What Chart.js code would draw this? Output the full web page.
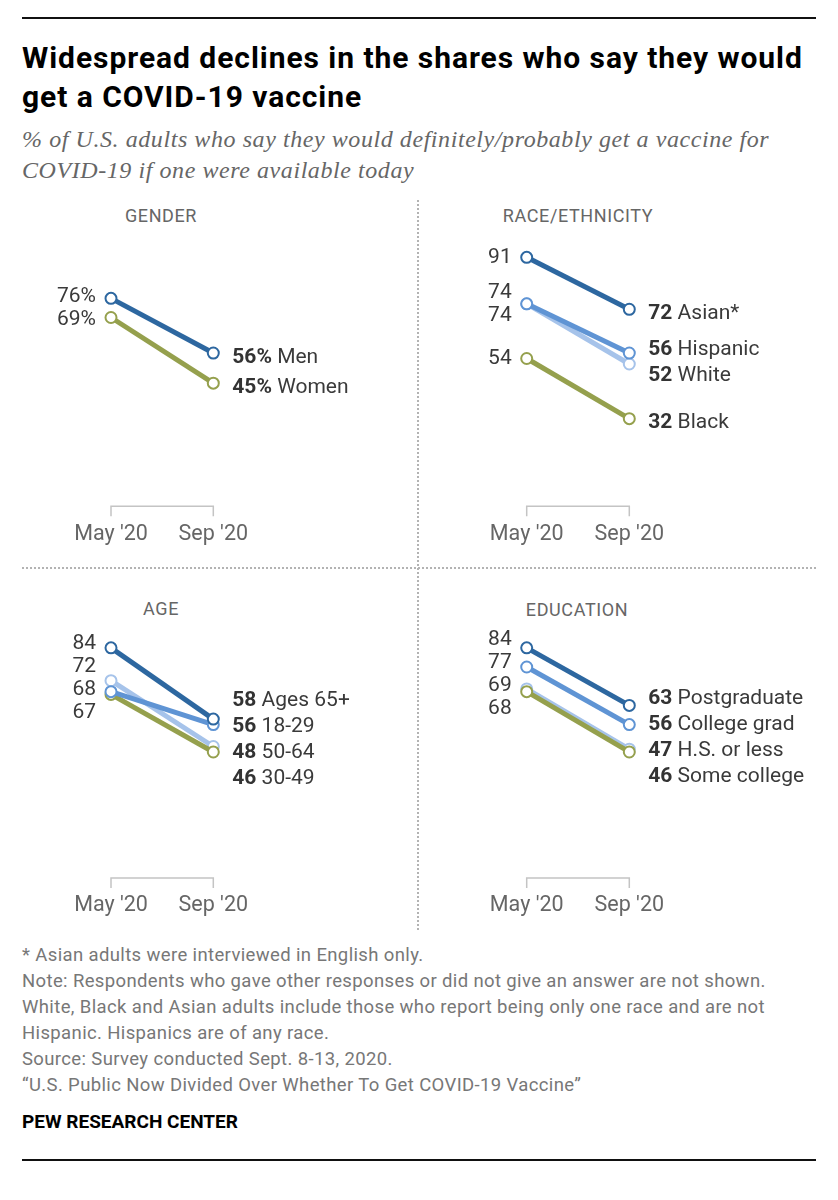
<!DOCTYPE html>
<html><head><meta charset="utf-8">
<script src="https://cdn.jsdelivr.net/npm/chart.js@4.4.1/dist/chart.umd.min.js"></script>
<style>
html,body{margin:0;padding:0;background:#fff;}
body{width:838px;height:1200px;position:relative;overflow:hidden;font-family:Roboto,"Open Sans",sans-serif;}
.abs{position:absolute;}
.rule{position:absolute;left:22px;width:794px;height:2px;background:#111;}
#title{left:22px;top:38px;font-family:Roboto,sans-serif;font-weight:700;font-size:30px;line-height:39px;color:#000;letter-spacing:0.95px;white-space:nowrap;}
#sub{left:22px;top:124px;font-family:"Liberation Serif",serif;font-style:italic;font-size:24px;line-height:31px;color:#666;letter-spacing:0.57px;white-space:nowrap;}
.hdr{position:absolute;font-size:18px;color:#666;letter-spacing:0.6px;transform:translateX(-50%);white-space:nowrap;line-height:20px;}
.vdot{position:absolute;left:417px;top:200px;width:2px;height:732px;background-image:repeating-linear-gradient(to bottom,#b3b3b3 0 2px,transparent 2px 4px);}
.hdot{position:absolute;left:22px;top:567px;width:794px;height:2px;background-image:repeating-linear-gradient(to right,#b3b3b3 0 2px,transparent 2px 4px);}
#notes{left:22px;top:942px;font-size:18.5px;line-height:26px;color:#777;letter-spacing:0.37px;white-space:nowrap;}
#pew{left:22px;top:1110px;font-size:19px;font-weight:700;color:#000;letter-spacing:0;}
canvas{position:absolute;}
</style></head>
<body>
<div class="rule" style="top:17px"></div>
<div id="title" class="abs">Widespread declines in the shares who say they would<br>get a COVID-19 vaccine</div>
<div id="sub" class="abs">% of U.S. adults who say they would definitely/probably get a vaccine for<br>COVID-19 if one were available today</div>
<div class="vdot"></div>
<div class="hdot"></div>
<div class="hdr" style="left:161px;top:206px">GENDER</div>
<div class="hdr" style="left:578px;top:206px">RACE/ETHNICITY</div>
<div class="hdr" style="left:161px;top:599px">AGE</div>
<div class="hdr" style="left:577px;top:600px">EDUCATION</div>
<canvas id="c1" width="419" height="370" style="left:0;top:190px"></canvas>
<canvas id="c2" width="419" height="370" style="left:419px;top:190px"></canvas>
<canvas id="c3" width="419" height="350" style="left:0;top:580px"></canvas>
<canvas id="c4" width="419" height="350" style="left:419px;top:580px"></canvas>
<div id="notes" class="abs">* Asian adults were interviewed in English only.<br>Note: Respondents who gave other responses or did not give an answer are not shown.<br>White, Black and Asian adults include those who report being only one race and are not<br>Hispanic. Hispanics are of any race.<br>Source: Survey conducted Sept. 8-13, 2020.<br>“U.S. Public Now Divided Over Whether To Get COVID-19 Vaccine”</div>
<div id="pew" class="abs">PEW RESEARCH CENTER</div>
<div class="rule" style="top:1159px"></div>
<script>
const periods = ["May '20", "Sep '20"];

const genderGroups = ['Men', 'Women'];
const genderMay = [76, 69];
const genderSep = [56, 45];

const raceGroups = ['Asian*', 'Hispanic', 'White', 'Black'];
const raceMay = [91, 74, 74, 54];
const raceSep = [72, 56, 52, 32];

const ageGroups = ['Ages 65+', '18-29', '50-64', '30-49'];
const ageMay = [84, 68, 72, 67];
const ageSep = [58, 56, 48, 46];

const eduGroups = ['Postgraduate', 'College grad', 'H.S. or less', 'Some college'];
const eduMay = [84, 77, 69, 68];
const eduSep = [63, 56, 47, 46];

const COLORS = {dark:'#2d67a0', medium:'#5f94d4', light:'#a6c3ea', olive:'#95a04d'};
const ZORDER = {dark:0, medium:1, olive:2, light:3};

function spread(items, gap){
  items.sort((a,b)=>a.y-b.y);
  let groups = items.map(it=>({items:[it], top:it.y}));
  let changed = true;
  while(changed){
    changed = false;
    for(let i=0;i<groups.length-1;i++){
      const g=groups[i], h=groups[i+1];
      const gb = g.top + (g.items.length-1)*gap;
      if(h.top - gb < gap){
        const its = g.items.concat(h.items);
        const mean = its.reduce((s,it)=>s+it.y,0)/its.length;
        groups.splice(i,2,{items:its, top: mean - (its.length-1)*gap/2});
        changed = true; break;
      }
    }
  }
  groups.forEach(g=>g.items.forEach((it,k)=>{it.ly = g.top + k*gap;}));
  return items;
}

const slopePlugin = {
  id:'slopeLabels',
  afterDatasetsDraw(chart){
    const o = chart.options.plugins.slopeLabels || {};
    const ctx = chart.ctx, xs = chart.scales.x, ys = chart.scales.y;
    const x0 = xs.getPixelForValue(0), x1 = xs.getPixelForValue(1), yb = ys.getPixelForValue(0);
    ctx.save();
    ctx.strokeStyle = '#c4c4c4'; ctx.lineWidth = 1.5;
    ctx.beginPath();
    ctx.moveTo(x0, yb+10); ctx.lineTo(x0, yb); ctx.lineTo(x1, yb); ctx.lineTo(x1, yb+10);
    ctx.stroke();
    ctx.fillStyle = '#666'; ctx.font = '21.5px Roboto'; ctx.textAlign = 'center'; ctx.textBaseline = 'middle';
    chart.data.labels.forEach((l,i)=>ctx.fillText(l, xs.getPixelForValue(i), yb+28));
    const suf = o.pct ? '%' : '';
    const ds = chart.data.datasets;
    const left = spread(ds.map(d=>({y: ys.getPixelForValue(d.data[0]), v: d.data[0]})), 23);
    ctx.fillStyle = '#3a3a3a'; ctx.font = '21px Roboto'; ctx.textAlign = 'right';
    left.forEach(it=>ctx.fillText(it.v + suf, x0 - 15, it.ly));
    const right = spread(ds.map(d=>({y: ys.getPixelForValue(d.data[1]), v: d.data[1], name: d.label})), 26);
    ctx.textAlign = 'left';
    right.forEach(it=>{
      const tx = x1 + 19, ty = it.ly + 4.5;
      ctx.font = 'bold 21px Roboto'; ctx.fillStyle = '#333';
      const num = it.v + suf;
      ctx.fillText(num, tx, ty);
      const w = ctx.measureText(num + ' ').width;
      ctx.font = '21px Roboto'; ctx.fillStyle = '#3a3a3a';
      ctx.fillText(it.name, tx + w, ty);
    });
    ctx.restore();
  }
};

function makeChart(id, groups, may, sep, roles, pad, pct){
  const datasets = groups.map((g,i)=>({
    label: g,
    data: [may[i], sep[i]],
    borderColor: COLORS[roles[i]],
    pointBorderColor: COLORS[roles[i]],
    pointBackgroundColor: '#fff',
    borderWidth: 5,
    pointRadius: 5.5,
    pointBorderWidth: 2,
    order: ZORDER[roles[i]],
    tension: 0
  }));
  return new Chart(document.getElementById(id), {
    type:'line',
    data:{labels: periods, datasets},
    options:{
      responsive:false, animation:false, devicePixelRatio:1,
      layout:{padding:pad},
      scales:{
        x:{type:'category', display:false, offset:false},
        y:{display:false, min:0, max:100}
      },
      plugins:{legend:{display:false}, tooltip:{enabled:false}, slopeLabels:{pct}},
    },
    plugins:[slopePlugin]
  });
}

const topPad = {top:42.7, bottom:53.8};
const botPad = {top:24, bottom:52};
makeChart('c1', genderGroups, genderMay, genderSep, ['dark','olive'],
  {left:111, right:419-213.3, top:topPad.top, bottom:topPad.bottom}, true);
makeChart('c2', raceGroups, raceMay, raceSep, ['dark','medium','light','olive'],
  {left:526.7-419, right:838-629.3, top:topPad.top, bottom:topPad.bottom}, false);
makeChart('c3', ageGroups, ageMay, ageSep, ['dark','medium','light','olive'],
  {left:111, right:419-213.3, top:botPad.top, bottom:botPad.bottom}, false);
makeChart('c4', eduGroups, eduMay, eduSep, ['dark','medium','light','olive'],
  {left:526.7-419, right:838-629.3, top:botPad.top, bottom:botPad.bottom}, false);
</script>
</body></html>
